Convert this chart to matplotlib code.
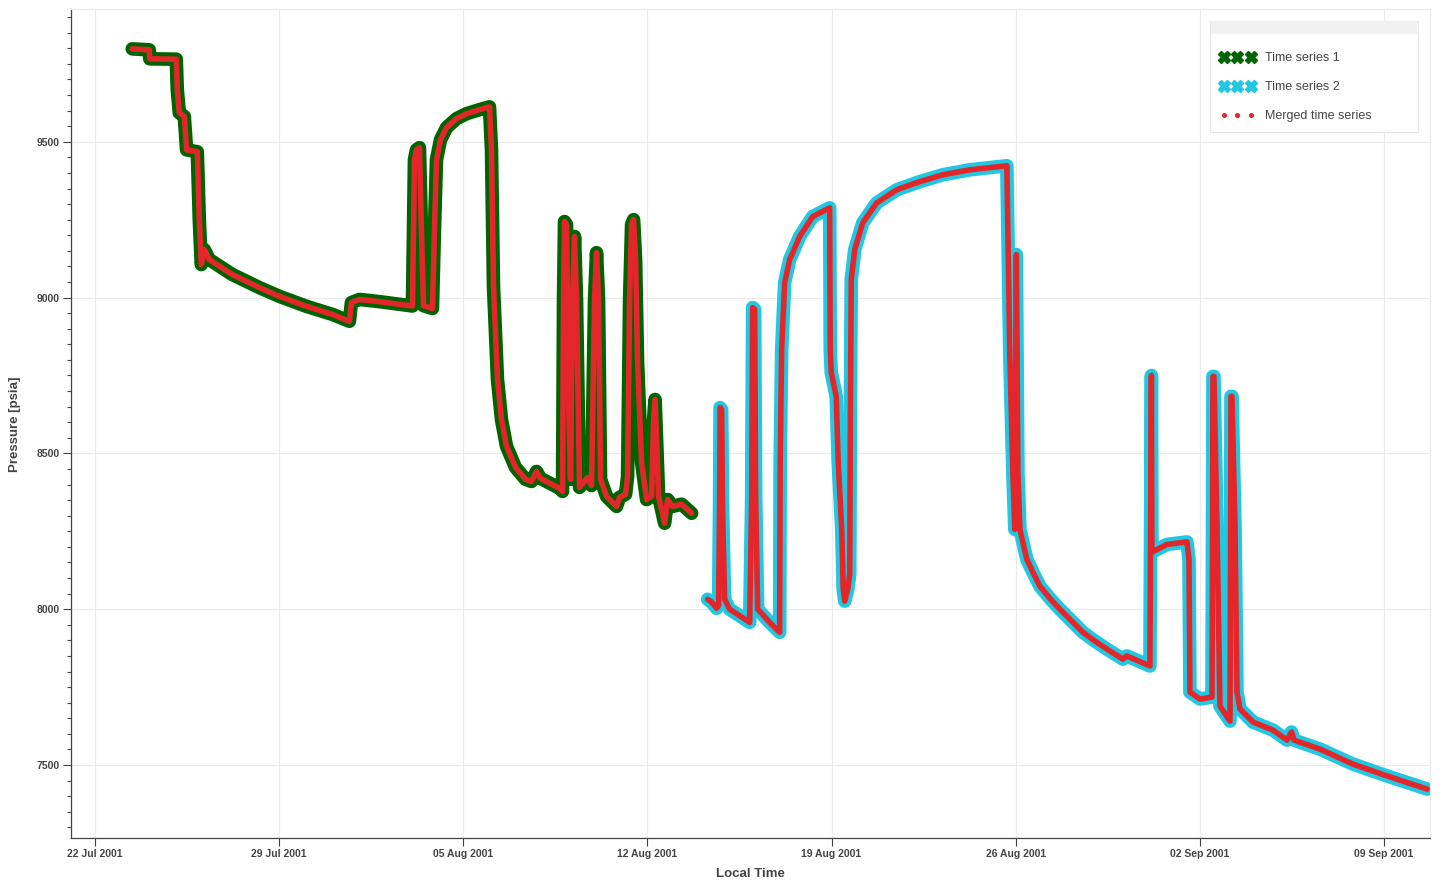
import numpy as np
import pandas as pd
import matplotlib
matplotlib.use('Agg')
import matplotlib.pyplot as plt
import matplotlib.dates as mdates
from matplotlib.lines import Line2D
from matplotlib.patches import Rectangle
from matplotlib.ticker import MultipleLocator

# Times are days after 22 Jul 2001 00:00, pressures in psia
ts1_days = [1.419, 2.065, 2.084, 3.092, 3.130, 3.207, 3.397, 3.484, 3.891, 3.967,
            4.043, 4.158, 4.348, 5.223, 6.250, 7.010, 8.037, 9.026, 9.673, 9.749,
            10.053, 10.814, 12.069, 12.145, 12.221, 12.335, 12.412, 12.488, 12.830, 12.906,
            12.982, 13.134, 13.362, 13.743, 14.123, 14.618, 14.998, 15.074, 15.150, 15.302,
            15.454, 15.644, 15.986, 16.367, 16.594, 16.785, 16.937, 17.660, 17.774, 17.812,
            17.850, 17.926, 18.002, 18.078, 18.154, 18.230, 18.306, 18.420, 18.725, 18.877,
            18.991, 19.067, 19.143, 19.220, 19.448, 19.828, 19.942, 20.171, 20.247, 20.323,
            20.399, 20.475, 20.551, 20.627, 20.779, 20.969, 21.160, 21.236, 21.293, 21.350,
            21.426, 21.655, 21.769, 21.959, 22.301, 22.682]
ts1_psia = [9798, 9795, 9766, 9765, 9667, 9593, 9581, 9474, 9468, 9250,
            9106, 9154, 9122, 9074, 9032, 9004, 8972, 8946, 8924, 8984,
            8994, 8987, 8973, 9442, 9474, 9481, 9218, 8974, 8965, 9218,
            9442, 9506, 9545, 9574, 9590, 9603, 9612, 9474, 9035, 8737,
            8609, 8523, 8455, 8417, 8410, 8442, 8420, 8388, 8378, 8994,
            9244, 9234, 8673, 8417, 8994, 9196, 8994, 8391, 8423, 8397,
            8994, 9144, 8994, 8417, 8362, 8330, 8359, 8369, 8426, 8994,
            9234, 9250, 9122, 8792, 8471, 8352, 8362, 8609, 8673, 8545,
            8362, 8276, 8352, 8330, 8337, 8308]

ts2_days = [23.289, 23.441, 23.631, 23.707, 23.745, 23.764, 23.822, 23.860, 23.936, 24.127,
            24.887, 24.963, 25.001, 25.077, 25.115, 25.191, 25.648, 26.028, 26.047, 26.104,
            26.218, 26.409, 26.789, 27.284, 27.930, 27.950, 27.988, 28.178, 28.254, 28.387,
            28.444, 28.501, 28.615, 28.691, 28.710, 28.730, 28.749, 28.882, 29.186, 29.718,
            30.479, 31.354, 32.229, 33.256, 34.663, 34.701, 34.777, 34.891, 34.967, 35.024,
            35.085, 35.161, 35.424, 35.652, 35.918, 36.297, 36.679, 37.058, 37.554, 38.009,
            38.467, 39.075, 39.227, 40.102, 40.121, 40.159, 40.178, 40.749, 41.509, 41.587,
            41.624, 42.004, 42.461, 42.499, 42.537, 42.651, 42.765, 43.146, 43.184, 43.222,
            43.336, 43.412, 43.526, 44.020, 44.781, 45.313, 45.485, 45.580, 46.569, 47.824,
            49.118, 50.639]
ts2_psia = [8032, 8023, 8003, 8013, 8353, 8647, 8641, 8311, 8032, 8000,
            7958, 8353, 8968, 8962, 8362, 8000, 7958, 7926, 8471, 8833,
            9048, 9122, 9196, 9260, 9288, 8833, 8760, 8683, 8471, 8256,
            8064, 8026, 8064, 8112, 8513, 8833, 9058, 9154, 9240, 9304,
            9346, 9372, 9394, 9410, 9423, 9218, 8811, 8439, 8256, 9138,
            8439, 8256, 8160, 8119, 8074, 8035, 8000, 7968, 7926, 7898,
            7872, 7840, 7850, 7818, 8160, 8750, 8183, 8208, 8216, 8160,
            7734, 7712, 7718, 8747, 8747, 8266, 7689, 7641, 8683, 8683,
            8266, 7734, 7680, 7638, 7612, 7580, 7606, 7580, 7551, 7503,
            7465, 7423]

labels = ['Time series 1', 'Time series 2', 'Merged time series']

start = pd.Timestamp('2001-07-22')
x_range_days = [-0.91, 50.76]
y_range = [7265, 9925]

green = '#006400'
cyan = '#22c7e1'
red = '#e3262a'
text_col = '#444444'

plt.rcParams['font.family'] = ['Liberation Sans', 'DejaVu Sans']


def to_time(days):
    return (start + pd.to_timedelta(np.asarray(days, dtype=float), unit='D')).to_pydatetime()


t1 = to_time(ts1_days)
t2 = to_time(ts2_days)

W_PX, H_PX = 1445, 888
fig = plt.figure(figsize=(W_PX / 100, H_PX / 100), dpi=100)
ax = fig.add_axes([71 / W_PX, 1 - 838.3 / H_PX, (1430.3 - 71) / W_PX, (838.3 - 9.3) / H_PX])

line_kw = dict(solid_joinstyle='round', solid_capstyle='round')
ax.plot(t1, ts1_psia, color=green, lw=9.8, zorder=3, **line_kw)
ax.plot(t2, ts2_psia, color=cyan, lw=9.8, zorder=3, **line_kw)
# merged series = both series drawn on top
for t, p in [(t1, ts1_psia), (t2, ts2_psia)]:
    ax.plot(t, p, color=red, lw=4.0, zorder=4, **line_kw)

ax.set_xlim(to_time(x_range_days))
ax.set_ylim(y_range)

ax.xaxis.set_major_locator(mdates.WeekdayLocator(byweekday=mdates.SU))
ax.xaxis.set_major_formatter(mdates.DateFormatter('%d %b %Y'))
ax.yaxis.set_major_locator(MultipleLocator(500))
ax.yaxis.set_minor_locator(MultipleLocator(50))

ax.grid(True, which='major', color='#ebebeb', lw=0.8, zorder=0)
ax.tick_params(axis='both', which='major', direction='out', length=5.5, width=0.8,
               color=text_col, labelcolor=text_col, labelsize=7.5, pad=2.5)
ax.tick_params(axis='y', which='minor', direction='out', length=3, width=0.8, color=text_col)
for lab in ax.get_xticklabels() + ax.get_yticklabels():
    lab.set_fontweight('bold')

for side in ['left', 'bottom']:
    ax.spines[side].set_color(text_col)
    ax.spines[side].set_linewidth(0.9)
for side in ['top', 'right']:
    ax.spines[side].set_color('#ebebeb')
    ax.spines[side].set_linewidth(0.8)

ax.set_xlabel('Local Time', fontsize=9.5, fontweight='bold', color=text_col, labelpad=6)
ax.set_ylabel('Pressure [psia]', fontsize=9.5, fontweight='bold', color=text_col, labelpad=11)

handles = [
    Line2D([], [], ls='none', marker='X', ms=8.5, color=green),
    Line2D([], [], ls='none', marker='X', ms=8.5, color=cyan),
    Line2D([], [], ls='none', marker='o', ms=2.6, color=red),
]
leg = ax.legend(handles, labels, loc='upper left', mode='expand',
                bbox_to_anchor=(1210 / W_PX, 1 - 133 / H_PX, 208 / W_PX, 112 / H_PX),
                bbox_transform=fig.transFigure,
                borderaxespad=0, numpoints=3, handlelength=2.76, handletextpad=0.84,
                borderpad=0.8, labelspacing=1.37, fontsize=9, labelcolor=text_col,
                title=' ', title_fontsize=2, fancybox=False, framealpha=1,
                edgecolor='#e6e6e6')
leg.get_frame().set_linewidth(0.8)
leg.set_zorder(10)

# grey header strip on the legend
fig.canvas.draw()
bb = leg.get_frame().get_window_extent()
W, H = fig.bbox.width, fig.bbox.height
fig.add_artist(Rectangle(((bb.x0 + 1) / W, (bb.y1 - 13) / H), (bb.width - 2) / W, 12.5 / H,
                         transform=fig.transFigure, facecolor='#f0f0f0', edgecolor='none',
                         zorder=20))

fig.savefig('out.png', dpi=100)
